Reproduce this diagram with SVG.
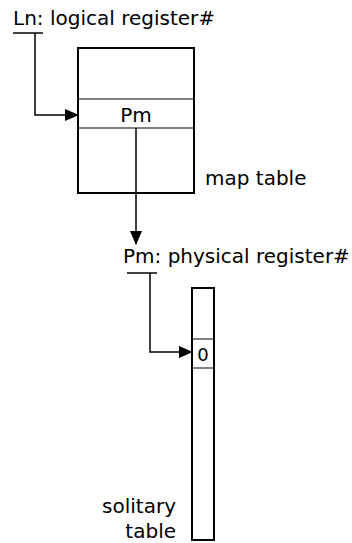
<svg xmlns="http://www.w3.org/2000/svg" width="352" height="543" viewBox="0 0 352 543">
<style>
text{font-family:"DejaVu Sans",Verdana,sans-serif;font-size:20px;fill:#000}
text.small{font-size:18px}
.box{fill:#fff;stroke:#000;stroke-width:2}
.ln{fill:none;stroke:#000;stroke-width:1.5}
.thin{fill:none;stroke:#000;stroke-width:1}
</style>
<defs>
<marker id="ah" markerWidth="14" markerHeight="12" refX="13" refY="6" orient="auto" markerUnits="userSpaceOnUse">
<path d="M0,0 L14,6 L0,12 Z" fill="#000"/>
</marker>
</defs>
<g id="label-ln">
<text x="13" y="25">Ln: logical register#</text>
<line class="ln" x1="13" y1="33" x2="43" y2="33"/>
</g>
<g id="map-table">
<rect class="box" x="78" y="48" width="116" height="145"/>
<line class="thin" x1="78" y1="99" x2="194" y2="99"/>
<line class="thin" x1="78" y1="128" x2="194" y2="128"/>
<text x="136" y="122" text-anchor="middle">Pm</text>
<text x="205" y="185">map table</text>
</g>
<g id="label-pm">
<text x="123" y="263">Pm: physical register#</text>
<line class="ln" x1="127" y1="273" x2="157" y2="273"/>
</g>
<g id="solitary-table">
<rect class="box" x="192" y="288" width="22" height="252"/>
<line class="thin" x1="192" y1="339" x2="214" y2="339"/>
<line class="thin" x1="192" y1="368" x2="214" y2="368"/>
<text class="small" x="203" y="361" text-anchor="middle">0</text>
<text x="176" y="513" text-anchor="end">solitary</text>
<text x="176" y="538" text-anchor="end">table</text>
</g>
<g id="connectors">
<polyline class="ln" points="35,33 35,115 78,115" marker-end="url(#ah)"/>
<line class="ln" x1="136" y1="128" x2="136" y2="244" marker-end="url(#ah)"/>
<polyline class="ln" points="150,273 150,352 192,352" marker-end="url(#ah)"/>
</g>
</svg>
